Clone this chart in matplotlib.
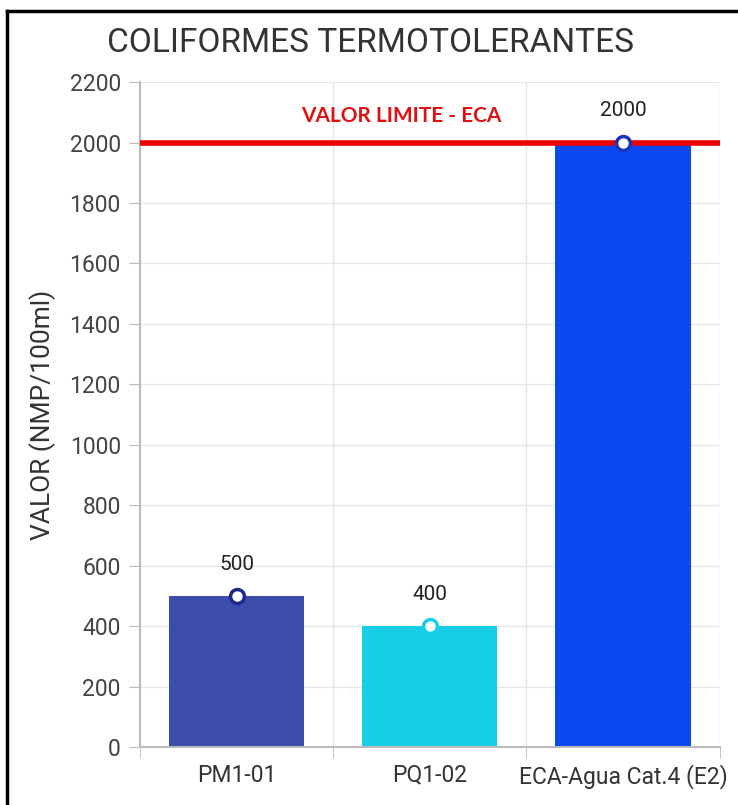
import matplotlib.pyplot as plt
from matplotlib.lines import Line2D
import numpy as np

# Datos del grafico
categorias = ["PM1-01", "PQ1-02", "ECA-Agua Cat.4 (E2)"]
valores = [500, 400, 2000]
colores = ["#3b4cab", "#16cfe6", "#0b48f2"]
bordes_marcador = ["#1e2a8a", "#16cfe6", "#1a36b8"]
limite_eca = 2000
yticks = list(range(0, 2201, 200))

plt.rcParams['font.family'] = ['Roboto', 'DejaVu Sans']

fig = plt.figure(figsize=(7.38, 8.05), dpi=100)
ax = fig.add_axes([0.19, 0.072, 0.785, 0.826])

x = np.arange(len(categorias))
ax.bar(x, valores, width=0.7, color=colores, zorder=2)

# Marcadores circulares sobre cada barra y etiqueta de valor
for xi, v, ec in zip(x, valores, bordes_marcador):
    ax.plot(xi, v, 'o', ms=10, mfc='white', mec=ec, mew=2.5, zorder=4)
    ax.annotate(str(v), (xi, v), xytext=(0, 16), textcoords='offset points',
                ha='center', va='bottom', fontsize=15, color='#222222')

# Linea de valor limite
ax.axhline(limite_eca, color='#ee0000', lw=4, zorder=3)
ax.text(0.85, limite_eca + 55, "VALOR LIMITE - ECA", color='#e01010',
        fontsize=15, fontweight='bold', ha='center', va='bottom',
        family=['Lato', 'DejaVu Sans'])

ax.set_xlim(-0.5, len(categorias) - 0.5)
ax.set_ylim(0, 2200)
ax.set_yticks(yticks)
ax.set_xticks(x)
ax.set_xticklabels(categorias)
ax.set_xticks(np.arange(len(categorias) + 1) - 0.5, minor=True)

ax.grid(True, which='major', axis='y', color='#e6e6e6', lw=1, zorder=0)
ax.grid(True, which='minor', axis='x', color='#e6e6e6', lw=1, zorder=0)
ax.tick_params(axis='x', which='major', length=0, pad=12, labelsize=16.5, labelcolor='#333333')
ax.tick_params(axis='x', which='minor', length=8, color='#bbbbbb')
ax.tick_params(axis='y', length=8, color='#bbbbbb', pad=6, labelsize=16.5, labelcolor='#444444')

for s in ['top', 'right']:
    ax.spines[s].set_visible(False)
for s in ['left', 'bottom']:
    ax.spines[s].set_color('#bbbbbb')
    ax.spines[s].set_linewidth(1.5)

ax.set_ylabel("VALOR (NMP/100ml)", fontsize=19, color='#333333', labelpad=10)
fig.text(0.502, 0.947, "COLIFORMES TERMOTOLERANTES", ha='center', va='center',
         fontsize=24, color='#333333')

# Marco exterior (solo borde superior e izquierdo)
marco_y = 1 - 11 / 805
marco_x = 7 / 738
fig.add_artist(Line2D([marco_x, 1.0], [marco_y, marco_y], transform=fig.transFigure,
                      color='black', lw=2.5))
fig.add_artist(Line2D([marco_x, marco_x], [0.0, marco_y], transform=fig.transFigure,
                      color='black', lw=2.5))

plt.savefig('out.png', dpi=100)
